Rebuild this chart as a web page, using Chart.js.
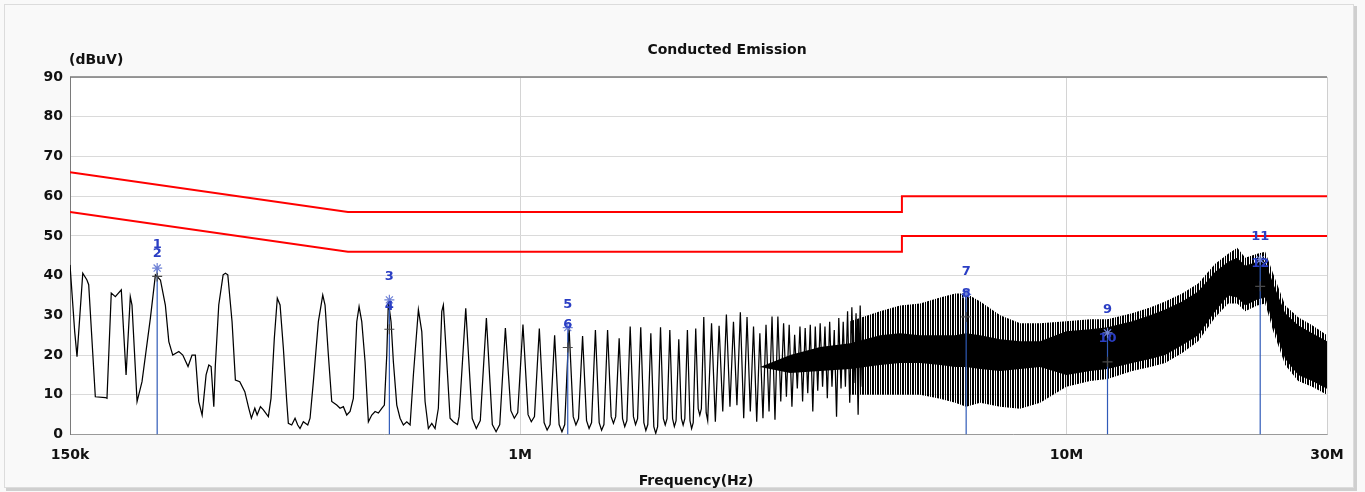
<!DOCTYPE html>
<html><head><meta charset="utf-8">
<script src="https://cdn.jsdelivr.net/npm/chart.js@4.4.0/dist/chart.umd.min.js"></script>
<style>html,body{margin:0;padding:0;background:#f9f9f9;overflow:hidden}#wrap{width:1365px;height:492px}</style>
</head><body><div id="wrap"><canvas id="c" width="1365" height="492"></canvas></div>
<script>
// ---------------- DATA ----------------
const chartTitle = 'Conducted Emission';
const yUnitLabel = '(dBuV)';
const xAxisLabel = 'Frequency(Hz)';
const xTickValues = [150000, 1000000, 10000000, 30000000];
const xTickLabels = ['150k', '1M', '10M', '30M'];

// limit lines (kHz, dBuV)
const qpLimitKHz = [150, 484, 5000, 5000, 30000];
const qpLimitDb  = [66, 56, 56, 60, 60];
const avLimitKHz = [150, 484, 5000, 5000, 30000];
const avLimitDb  = [56, 46, 46, 50, 50];

// measured trace, low-frequency part (kHz, dBuV)
const traceLowKHz = [150.0,153.0,154.5,158.3,161.1,162.3,166.9,174.1,175.3,178.5,181.6,186.2,190.0,193.4,194.8,199.0,203.2,210.5,215.0,219.6,224.2,227.5,231.3,237.3,241.3,246.7,250.9,254.4,258.1,261.8,266.2,269.3,271.9,275.0,276.8,280.8,286.0,288.8,291.7,297.0,301.2,306.8,313.4,318.7,322.2,326.9,330.1,334.7,
338.9,346.1,350.0,354.9,359.4,363.6,368.7,374.0,376.5,381.9,387.3,391.7,395.5,401.1,408.6,412.6,418.4,427.3,435.3,439.5,445.7,452.1,461.7,468.2,474.8,481.6,488.4,495.2,502.4,507.3,513.1,520.3,527.6,535.2,542.7,550.3,558.2,564.4,570.1,574.0,580.5,586.2,594.7,603.0,611.5,620.3,629.0,637.8,651.4,660.8,670.0,679.4,689.2,698.8,708.6,718.9,723.7,734.2,744.5,754.9,768.0];
const traceLowDb = [42.7,25.9,19.6,40.6,38.9,37.7,9.5,9.3,9.1,35.6,34.7,36.4,15.0,34.7,32.6,8.3,13.3,29.3,40.2,38.9,32.6,23.4,20.0,20.9,20.0,17.1,20.0,20.0,8.3,4.9,15.0,17.5,17.1,7.0,17.5,32.6,40.2,40.6,40.2,28.4,13.7,13.3,10.8,6.6,4.1,6.6,4.9,7.0,
6.2,4.5,9.1,24.2,34.3,32.6,21.7,8.3,2.8,2.4,4.1,2.4,1.5,3.2,2.4,4.1,13.3,28.4,35.1,32.6,20.0,8.3,7.4,6.6,7.0,4.9,5.8,9.1,28.4,32.2,28.4,18.3,3.2,4.9,5.8,5.4,6.6,7.4,20.0,33.5,28.4,18.3,7.4,4.1,2.4,3.2,2.4,15.0,31.4,25.9,8.3,1.5,2.8,1.5,6.6,31.0,32.6,18.3,4.1,3.2,2.5];

// harmonic peaks and the troughs after them (kHz, dBuV)
const harmonicPeakKHz = [795.3,867.6,939.9,1012.2,1084.5,1156.8,1229.1,1301.4,1373.7,1446.0,1518.3,1590.6,1662.9,1735.2,1807.5,1879.8,1952.1,2024.4,2096.7,2169.0,2241.3,2313.6,2385.9,2458.2,2530.5,2602.8,2675.1,2747.4,2819.7,2892.0,2964.3,3036.6,3108.9,3181.2,3253.5,3325.8,3398.1,3470.4,3542.7,3615.0,3687.3,3759.6,3831.9,3904.2,3976.5,4048.8,4121.1,4193.4];
const harmonicPeakDb = [31.8,29.3,26.8,27.7,26.7,25.0,27.2,24.8,26.3,26.3,24.2,27.2,27.0,25.5,27.0,26.3,24.0,26.3,26.7,29.6,28.0,27.4,30.2,28.4,30.8,29.6,27.2,25.5,27.6,29.7,29.7,28.0,27.6,25.1,27.2,26.8,27.6,27.2,28.0,27.2,28.4,26.3,29.3,28.4,31.0,32.0,30.5,32.5];
const harmonicTroughKHz = [831.5,903.8,976.1,1048.4,1120.7,1193.0,1265.3,1337.6,1409.9,1482.2,1554.5,1626.8,1699.1,1771.4,1843.7,1916.0,1988.3,2060.6,2132.9,2205.2,2277.5,2349.8,2422.1,2494.4,2566.7,2639.0,2711.3,2783.6,2855.9,2928.2,3000.5,3072.8,3145.1,3217.4,3289.7,3362.0,3434.3,3506.6,3578.9,3651.2,3723.5,3795.8,3868.1,3940.4,4012.7,4085.0,4157.3,4229.6];
const harmonicTroughDb = [1.5,0.7,4.1,3.2,1.1,0.7,2.4,1.5,1.1,2.8,2.0,2.5,1.0,0.3,2.4,2.0,2.4,1.5,4.9,3.5,3.2,5.8,7.0,7.4,4.1,5.8,3.2,4.1,5.8,3.7,8.3,9.5,7.0,11.6,8.3,10.4,5.8,11.0,12.0,9.1,12.0,4.5,11.6,12.0,8.0,13.0,5.0,12.0];
// base (foot) of the first 20 harmonic peaks, before and after each peak (kHz, dBuV)
const footBeforeKHz = [773.3,845.6,917.9,990.2,1062.5,1134.8,1207.1,1279.4,1351.7,1424.0,1496.3,1568.6,1640.9,1713.2,1785.5,1857.8,1930.1,2002.4,2074.7,2147.0];
const footBeforeDb  = [4.5,3.5,2.5,5.5,4.5,2.5,2.5,4,3,2.5,4.5,3.5,4,2.5,2,4,3.5,4,3,6.5];
const footAfterKHz  = [817.3,889.6,961.9,1034.2,1106.5,1178.8,1251.1,1323.4,1395.7,1468.0,1540.3,1612.6,1684.9,1757.2,1829.5,1901.8,1974.1,2046.4,2118.7,2191.0];
const footAfterDb   = [4,2.5,6,5,3,2.5,4.5,3.5,3,4.5,4,4.5,3,2,4,4,4,3.5,6.5,5.5];

// dense high-frequency part: solid core of the trace (kHz, dBuV)
const coreKHz = [2750,3121,3542,4020,4561,4962,5398,5874,6260,6555,6954,7565,8229,8953,10000,11055,11894,13194,14235,15165,16293,17429,18729,19785,20549,21254,22353,23120,23913,25154,26568,28185,30000];
const coreTopDb = [17,20,22,23,25,25.5,25,25,25,25.5,25,24,23.5,23.5,26,26.5,27,28.5,30,31.5,33.5,36,41,43.5,44.5,42.5,43.5,43.5,38,30.5,27.5,25.5,23.5];
const coreBottomDb = [17,15.5,16,16.5,17.5,18,18,17.5,17,17,16.5,16,16.5,17,15,16,16.5,18,19,20,22.5,25,31,35,34.5,32.5,34,34.5,27.5,19,15,13.5,11.5];
// dense high-frequency part: envelope of the spikes (kHz, dBuV)
const spikeKHz = [4020,4561,4962,5398,5874,6260,6555,6954,7565,8229,8953,10000,11055,11894,13194,14235,15165,16293,17429,18729,19785,20549,21254,22353,23120,23913,25154,26568,28185,30000];
const spikeTopDb = [28.5,31,32.5,33,34.5,35.5,35.5,33.5,30,28,28,28.5,29,29,30.5,32,33.5,35.5,38,43,45.5,47,44.5,45.5,46,40.5,32.5,29.5,27.5,25];
const spikeBottomDb = [10,10,10,10,9,8,7,8,7,6.5,8,12,13.5,14,16,17,18,20.5,23.5,29.5,33,33,31,32.5,33,26,17.5,13.5,12,10];

// markers (kHz, dBuV)
const markerLabels = ['1','2','3','4','5','6','7','8','9','10','11','12'];
const markerKHz = [216.6,216.6,576.4,576.4,1222.5,1222.5,6555,6555,11894,11894,22638,22638];
const markerDb  = [41.9,39.8,33.9,26.5,26.9,21.9,35.3,29.6,25.6,18.3,44.0,37.3];

// ---------------- BUILD ----------------
const FONT = "'DejaVu Sans', sans-serif";
const toPts = (kHz, db) => kHz.map((f, i) => ({x: f * 1000, y: db[i]}));

const tracePts = toPts(traceLowKHz, traceLowDb);
harmonicPeakKHz.forEach((f, i) => {
  if (i < footBeforeKHz.length) tracePts.push({x: footBeforeKHz[i] * 1000, y: footBeforeDb[i]});
  tracePts.push({x: f * 1000, y: harmonicPeakDb[i]});
  if (i < footAfterKHz.length) tracePts.push({x: footAfterKHz[i] * 1000, y: footAfterDb[i]});
  tracePts.push({x: harmonicTroughKHz[i] * 1000, y: harmonicTroughDb[i]});
});

const qpMarkers = [], avMarkers = [], markerLines = [];
markerKHz.forEach((f, i) => {
  if (i % 2 === 0) {
    qpMarkers.push({x: f * 1000, y: markerDb[i]});
    markerLines.push({x: f * 1000, y: 0}, {x: f * 1000, y: markerDb[i]}, {x: f * 1000, y: null});
  } else {
    avMarkers.push({x: f * 1000, y: markerDb[i]});
  }
});

const canvas = document.getElementById('c');
const pc = document.createElement('canvas'); pc.width = 5; pc.height = 1;
const pctx = pc.getContext('2d'); pctx.fillStyle = '#000';
pctx.fillRect(0, 0, 1, 1); pctx.fillRect(2, 0, 2, 1);
const stripe = canvas.getContext('2d').createPattern(pc, 'repeat');

const bgPlugin = {
  id: 'bg',
  beforeDraw(chart) {
    const {ctx, chartArea: a} = chart;
    ctx.save();
    ctx.fillStyle = '#f9f9f9'; ctx.fillRect(0, 0, chart.width, chart.height);
    ctx.strokeStyle = '#dcdcdc'; ctx.lineWidth = 1; ctx.strokeRect(4.5, 4.5, 1349, 483);
    ctx.fillStyle = '#cfcfcf'; ctx.fillRect(1354, 6, 3, 484); ctx.fillRect(6, 488, 1351, 3);
    ctx.fillStyle = '#ffffff'; ctx.fillRect(a.left, a.top, a.right - a.left, a.bottom - a.top);
    ctx.restore();
  },
  afterDraw(chart) {
    const {ctx, chartArea: a, scales} = chart;
    ctx.save();
    ctx.strokeStyle = '#cfcfcf'; ctx.lineWidth = 1;
    ctx.beginPath(); ctx.moveTo(a.right + 0.5, a.top); ctx.lineTo(a.right + 0.5, a.bottom); ctx.stroke();
    ctx.strokeStyle = '#7a7a7a'; ctx.lineWidth = 1.5;
    ctx.beginPath(); ctx.moveTo(a.left, a.top); ctx.lineTo(a.right, a.top); ctx.stroke();
    ctx.fillStyle = '#111'; ctx.font = 'bold 14px ' + FONT; ctx.textBaseline = 'middle';
    ctx.textAlign = 'center'; ctx.fillText(chartTitle, 727, 50);
    ctx.textAlign = 'left'; ctx.fillText(yUnitLabel, 69, 60);
    ctx.textAlign = 'center'; ctx.fillText(xAxisLabel, 696, 481);
    ctx.fillStyle = '#2a3ec4'; ctx.font = 'bold 13px ' + FONT;
    markerKHz.forEach((f, i) => {
      const x = scales.x.getPixelForValue(f * 1000);
      const y = scales.y.getPixelForValue(markerDb[i]) - 23;
      ctx.fillText(markerLabels[i], x, y);
    });
    ctx.restore();
  }
};

new Chart(canvas, {
  type: 'line',
  data: {
    datasets: [
      {data: qpMarkers, showLine: false, pointStyle: 'star', pointRadius: 5, borderColor: '#6f82d6', backgroundColor: '#6f82d6', pointBorderWidth: 1.2},
      {data: avMarkers, showLine: false, pointStyle: 'cross', pointRadius: 5, borderColor: '#4a4a4a', backgroundColor: '#4a4a4a', pointBorderWidth: 1.2},
      {data: markerLines, borderColor: '#2f5ab8', borderWidth: 1.2, pointRadius: 0, spanGaps: false},
      {data: toPts(qpLimitKHz, qpLimitDb), borderColor: '#ff0000', borderWidth: 2, pointRadius: 0},
      {data: toPts(avLimitKHz, avLimitDb), borderColor: '#ff0000', borderWidth: 2, pointRadius: 0},
      {data: tracePts, borderColor: '#000000', borderWidth: 1.25, pointRadius: 0},
      {data: toPts(coreKHz, coreTopDb), borderWidth: 0, pointRadius: 0, borderColor: 'rgba(0,0,0,0)', backgroundColor: '#000000', fill: '+1'},
      {data: toPts(coreKHz, coreBottomDb), borderWidth: 0, pointRadius: 0, borderColor: 'rgba(0,0,0,0)'},
      {data: toPts(spikeKHz, spikeTopDb), borderWidth: 0, pointRadius: 0, borderColor: 'rgba(0,0,0,0)', backgroundColor: stripe, fill: '+1'},
      {data: toPts(spikeKHz, spikeBottomDb), borderWidth: 0, pointRadius: 0, borderColor: 'rgba(0,0,0,0)'}
    ]
  },
  options: {
    responsive: false, animation: false, devicePixelRatio: 1,
    layout: {padding: {top: 77, right: 38, bottom: 0, left: 0}},
    plugins: {legend: {display: false}, tooltip: {enabled: false}, title: {display: false}},
    elements: {line: {tension: 0}},
    scales: {
      x: {
        type: 'logarithmic', min: 150000, max: 30000000,
        afterBuildTicks: s => { s.ticks = xTickValues.map(v => ({value: v})); },
        afterFit: s => { s.height = 57.5; },
        ticks: {autoSkip: false, maxRotation: 0, padding: 12, color: '#111',
          font: {family: FONT, size: 14, weight: 'bold'},
          callback: (v, i) => xTickLabels[i]},
        grid: {drawTicks: false, color: c => (c.tick && (c.tick.value === 1e6 || c.tick.value === 1e7)) ? '#d4d4d4' : 'rgba(0,0,0,0)'},
        border: {color: '#9a9a9a'}
      },
      y: {
        min: 0, max: 90,
        afterFit: s => { s.width = 70; },
        ticks: {stepSize: 10, padding: 7, color: '#111', font: {family: FONT, size: 14, weight: 'bold'}},
        grid: {drawTicks: false, color: '#dadada'},
        border: {color: '#7a7a7a'}
      }
    }
  },
  plugins: [bgPlugin]
});
</script></body></html>
